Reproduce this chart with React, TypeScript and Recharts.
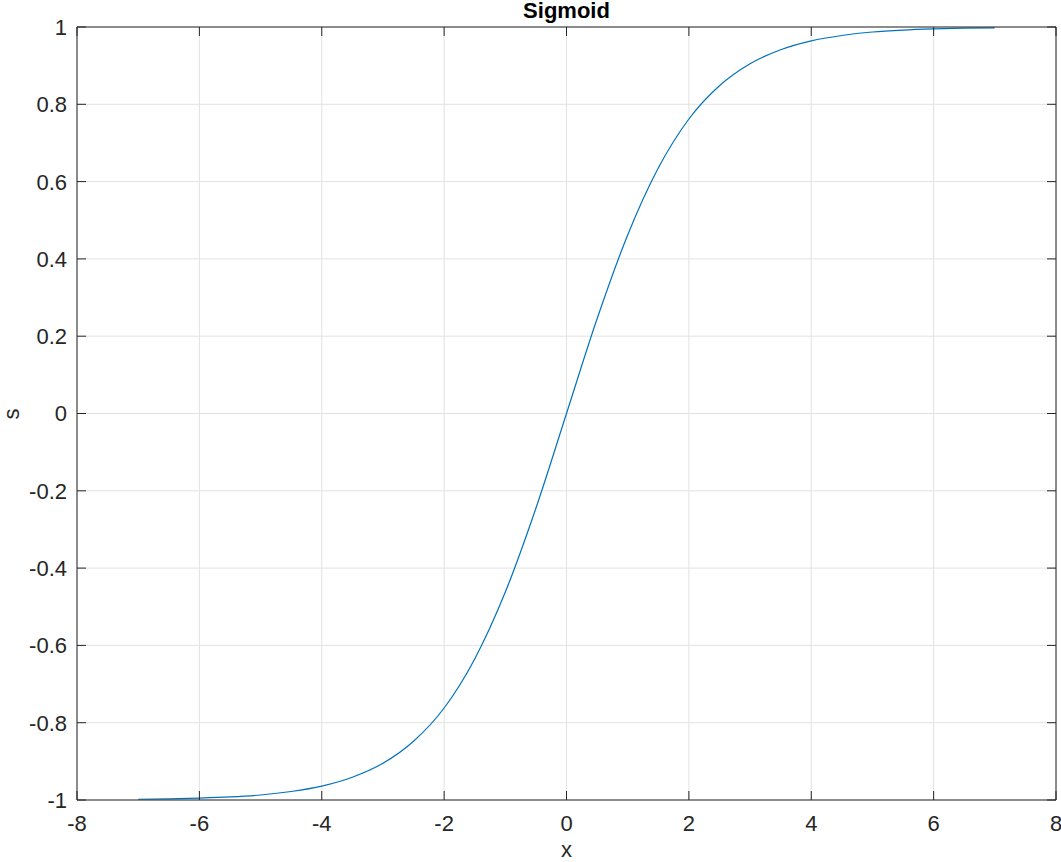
import React from 'react'
import { LineChart, Line, XAxis, YAxis, CartesianGrid } from 'recharts'

// values
const xValues = [
  -7, -6.5, -6, -5.5, -5, -4.5, -4, -3.5, -3, -2.5, -2, -1.5, -1, -0.5, 0,
  0.5, 1, 1.5, 2, 2.5, 3, 3.5, 4, 4.5, 5, 5.5, 6, 6.5, 7,
]
const sValues = [
  -0.998, -0.997, -0.995, -0.992, -0.987, -0.978, -0.964, -0.941, -0.905, -0.848,
  -0.762, -0.635, -0.462, -0.245, 0, 0.245, 0.462, 0.635, 0.762, 0.848, 0.905,
  0.941, 0.964, 0.978, 0.987, 0.992, 0.995, 0.997, 0.998,
]
const xTicks = [-8, -6, -4, -2, 0, 2, 4, 6, 8]
const yTicks = [-1, -0.8, -0.6, -0.4, -0.2, 0, 0.2, 0.4, 0.6, 0.8, 1]

const data = xValues.map((x, i) => ({ x, s: sValues[i] }))

const FONT = '"Liberation Sans", Arial, Helvetica, sans-serif'
const INK = '#262626'
const TICK_LEN = 9
const FS = 22

const leftTick = (props: any) => {
  const { x, y, payload } = props
  const ax = x + 10
  return (
    <g>
      <text x={x} y={y} dy="0.36em" textAnchor="end" fill={INK} fontSize={FS} fontFamily={FONT}>
        {payload.value}
      </text>
      <line x1={ax} y1={y} x2={ax + TICK_LEN} y2={y} stroke={INK} />
    </g>
  )
}

const bottomTick = (props: any) => {
  const { x, y, payload } = props
  const ay = y - 15
  return (
    <g>
      <text x={x} y={y} dy="0.71em" textAnchor="middle" fill={INK} fontSize={FS} fontFamily={FONT}>
        {payload.value}
      </text>
      <line x1={x} y1={ay} x2={x} y2={ay - TICK_LEN} stroke={INK} />
    </g>
  )
}

const rightTick = (props: any) => {
  const { x, y } = props
  return <line x1={x} y1={y} x2={x - TICK_LEN} y2={y} stroke={INK} />
}

const topTick = (props: any) => {
  const { x, y } = props
  return <line x1={x} y1={y} x2={x} y2={y + TICK_LEN} stroke={INK} />
}

export default function App() {
  return (
    <div style={{ position: 'absolute', left: 0, top: 0, width: 1061, height: 862, background: '#fff' }}>
      <div
        style={{
          position: 'absolute',
          left: 77,
          width: 979,
          top: 0,
          lineHeight: '22px',
          textAlign: 'center',
          fontFamily: FONT,
          fontWeight: 'bold',
          fontSize: 22,
          color: '#000',
        }}
      >
        Sigmoid
      </div>
      <div
        style={{
          position: 'absolute',
          left: 77,
          width: 979,
          top: 839,
          lineHeight: '22px',
          textAlign: 'center',
          fontFamily: FONT,
          fontSize: FS,
          color: INK,
        }}
      >
        x
      </div>
      <div
        style={{
          position: 'absolute',
          left: 3,
          top: 405,
          width: 18,
          height: 18,
          lineHeight: '18px',
          textAlign: 'center',
          transform: 'rotate(-90deg)',
          fontFamily: FONT,
          fontSize: FS,
          color: INK,
        }}
      >
        s
      </div>
      <LineChart
        width={1061}
        height={862}
        data={data}
        margin={{ top: 26, right: 4, bottom: 0, left: 0 }}
      >
        <CartesianGrid stroke="#e2e2e2" xAxisId="bottom" yAxisId="left" />
        <XAxis
          xAxisId="bottom"
          dataKey="x"
          type="number"
          domain={[-8, 8]}
          ticks={xTicks}
          height={62}
          tickSize={0}
          tickMargin={15}
          tickLine={false}
          axisLine={{ stroke: INK }}
          tick={bottomTick}
          interval={0}
        />
        <XAxis
          xAxisId="top"
          orientation="top"
          dataKey="x"
          type="number"
          domain={[-8, 8]}
          ticks={xTicks}
          height={1}
          tickSize={0}
          tickMargin={0}
          tickLine={false}
          axisLine={{ stroke: INK }}
          tick={topTick}
          interval={0}
        />
        <YAxis
          yAxisId="left"
          type="number"
          domain={[-1, 1]}
          ticks={yTicks}
          width={77}
          tickSize={0}
          tickMargin={10}
          tickLine={false}
          axisLine={{ stroke: INK }}
          tick={leftTick}
          interval={0}
        />
        <YAxis
          yAxisId="right"
          orientation="right"
          type="number"
          domain={[-1, 1]}
          ticks={yTicks}
          width={1}
          tickSize={0}
          tickMargin={0}
          tickLine={false}
          axisLine={{ stroke: INK }}
          tick={rightTick}
          interval={0}
        />
        {/* invisible copy so the top/right box axes share the same scales */}
        <Line
          xAxisId="top"
          yAxisId="right"
          type="monotone"
          dataKey="s"
          stroke="none"
          dot={false}
          activeDot={false}
          isAnimationActive={false}
        />
        <Line
          xAxisId="bottom"
          yAxisId="left"
          type="monotone"
          dataKey="s"
          stroke="#0072BD"
          strokeWidth={1.2}
          dot={false}
          isAnimationActive={false}
        />
      </LineChart>
    </div>
  )
}
